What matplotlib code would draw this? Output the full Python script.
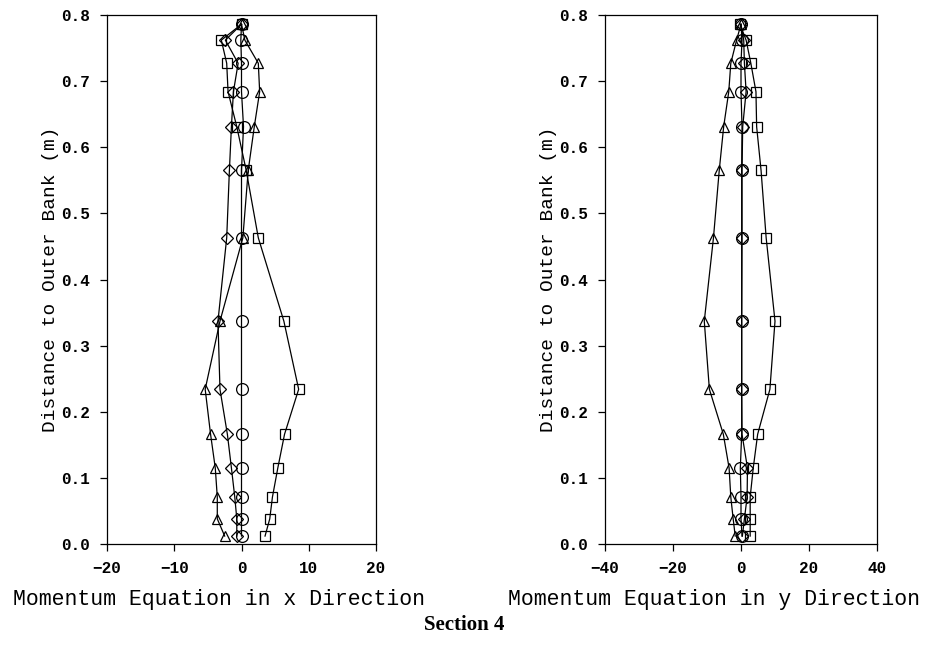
import matplotlib
matplotlib.use("Agg")
import matplotlib.pyplot as plt

# distance to outer bank (m), bottom to top
depth = [0.012, 0.038, 0.071, 0.115, 0.166, 0.234, 0.337, 0.463, 0.565, 0.631, 0.684, 0.727, 0.762, 0.786]

# momentum equation, x direction
x_square = [3.5, 4.2, 4.6, 5.4, 6.4, 8.5, 6.3, 2.5, 0.7, -0.7, -2.0, -2.2, -3.0, 0.0]
x_triangle = [-2.5, -3.6, -3.6, -3.9, -4.6, -5.4, -3.2, 0.2, 1.0, 1.9, 2.7, 2.5, 0.5, 0.0]
x_diamond = [-0.7, -0.7, -1.0, -1.5, -2.1, -3.2, -3.5, -2.2, -1.8, -1.5, -1.2, -0.5, -2.4, 0.0]
x_circle = [0.0, 0.0, 0.0, 0.0, 0.0, 0.0, 0.0, 0.0, 0.0, 0.3, 0.0, 0.0, -0.1, 0.0]

# momentum equation, y direction
y_square = [2.7, 2.7, 2.7, 3.6, 4.9, 8.5, 10.0, 7.4, 5.9, 4.6, 4.4, 2.9, 1.5, -0.3]
y_triangle = [-1.7, -2.3, -3.0, -3.5, -5.2, -9.3, -10.8, -8.1, -6.4, -5.1, -3.6, -3.0, -1.3, 0.0]
y_diamond = [0.4, 1.0, 1.8, 1.9, 0.3, 0.2, 0.2, 0.3, 0.3, 0.5, 1.5, 1.0, 0.8, 0.0]
y_circle = [0.3, 0.0, 0.0, -0.2, 0.2, 0.2, 0.2, 0.2, 0.2, 0.3, 0.0, 0.0, 0.3, 0.0]

y_ticks = [0.0, 0.1, 0.2, 0.3, 0.4, 0.5, 0.6, 0.7, 0.8]
x_ticks_left = [-20, -10, 0, 10, 20]
x_ticks_right = [-40, -20, 0, 20, 40]

MONO = "Liberation Mono"

fig = plt.figure(figsize=(9.29, 6.45), dpi=100)
ax1 = fig.add_axes([107 / 929, 1 - 544 / 645, 269 / 929, 529 / 645])
ax2 = fig.add_axes([605 / 929, 1 - 544 / 645, 272 / 929, 529 / 645])

def draw_panel(ax, series, xlim, xticks, xlabel, label_x):
    markers = ["s", "^", "D", "o"]
    sizes = [7.5, 7, 6.5, 8.5]
    for vals, m, ms in zip(series, markers, sizes):
        ax.plot(vals, depth, color="black", lw=0.9, marker=m, ms=ms,
                mfc="none", mec="black", mew=0.9)
    ax.set_xlim(*xlim)
    ax.set_ylim(0.0, 0.8)
    ax.set_xticks(xticks)
    ax.set_yticks(y_ticks)
    ax.set_yticklabels([f"{v:.1f}" for v in y_ticks])
    ax.tick_params(direction="out", length=5, width=0.9, labelsize=11.5, pad=7)
    for lab in ax.get_xticklabels() + ax.get_yticklabels():
        lab.set_family(MONO)
        lab.set_fontweight("bold")
    for sp in ax.spines.values():
        sp.set_linewidth(0.9)
    ax.set_xlabel(xlabel, family=MONO, fontsize=15.5, labelpad=8)
    ax.xaxis.set_label_coords(label_x, -0.085)
    ax.set_ylabel("Distance to Outer Bank (m)", family=MONO, fontsize=14, labelpad=2)

draw_panel(ax1, [x_square, x_triangle, x_diamond, x_circle], (-20, 20), x_ticks_left,
           "Momentum Equation in x Direction", 0.416)
draw_panel(ax2, [y_square, y_triangle, y_diamond, y_circle], (-40, 40), x_ticks_right,
           "Momentum Equation in y Direction", 0.40)

fig.text(0.5, 1 - 625 / 645, "Section 4", ha="center", va="center",
         family="Liberation Serif", fontweight="bold", fontsize=15)

fig.savefig("out.png", dpi=100)
